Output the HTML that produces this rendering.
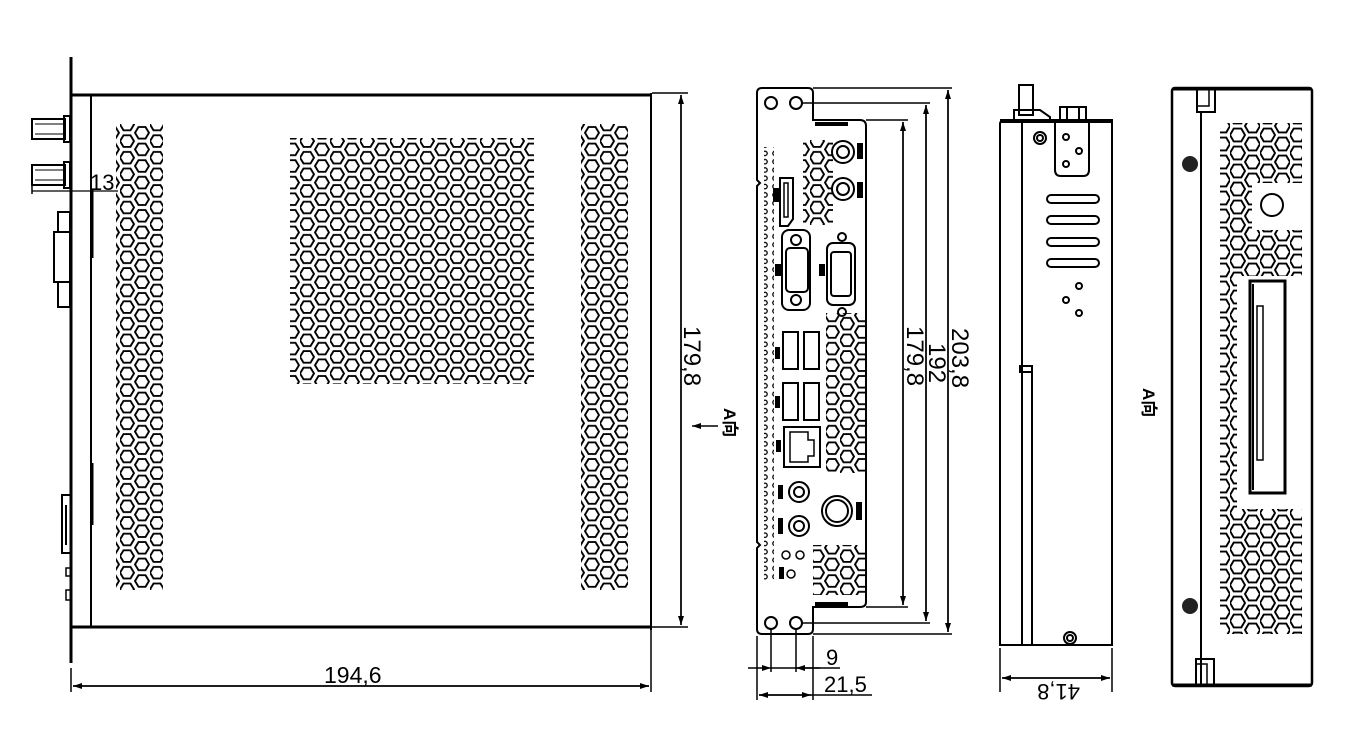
<!DOCTYPE html>
<html><head><meta charset="utf-8"><style>
html,body{margin:0;padding:0;background:#fff;}
svg{display:block;}
text{font-family:"Liberation Sans","Noto Sans CJK SC",sans-serif;fill:#000;}
</style></head><body>
<svg width="1361" height="756" viewBox="0 0 1361 756" xmlns="http://www.w3.org/2000/svg">
<defs>
<pattern id="hx" patternUnits="userSpaceOnUse" width="30" height="16.6">
<g fill="none" stroke="#000" stroke-width="1.9">
<polygon points="0,8.3 3.5,2.5 10.5,2.5 14,8.3 10.5,14.1 3.5,14.1"/>
<polygon points="15,0 18.5,-5.8 25.5,-5.8 29,0 25.5,5.8 18.5,5.8"/>
<polygon points="15,16.6 18.5,10.8 25.5,10.8 29,16.6 25.5,22.4 18.5,22.4"/>
</g></pattern>
<pattern id="hx2" patternUnits="userSpaceOnUse" width="30" height="18">
<g fill="none" stroke="#000" stroke-width="1.9">
<polygon points="0,9 3.7,2.6 11.3,2.6 15,9 11.3,15.4 3.7,15.4"/>
<polygon points="15,0 18.7,-6.4 26.3,-6.4 30,0 26.3,6.4 18.7,6.4"/>
<polygon points="15,18 18.7,11.6 26.3,11.6 30,18 26.3,24.4 18.7,24.4"/>
</g></pattern>
<pattern id="dots" patternUnits="userSpaceOnUse" width="10" height="8.3">
<circle cx="5" cy="4" r="2.2" fill="none" stroke="#000" stroke-width="1.3"/>
</pattern>
<marker id="ar" markerWidth="10" markerHeight="8" refX="9" refY="4" orient="auto" markerUnits="userSpaceOnUse">
<path d="M0,1 L9,4 L0,7 Z" fill="#000"/></marker>
</defs>

<g fill="none" stroke="#000">
<line x1="71" y1="57" x2="71" y2="663" stroke-width="3"/>
<line x1="71" y1="95" x2="652" y2="95" stroke-width="3"/>
<line x1="71" y1="627" x2="652" y2="627" stroke-width="3"/>
<line x1="91" y1="95" x2="91" y2="627" stroke-width="2"/>
<line x1="651" y1="93" x2="651" y2="630" stroke-width="2"/>
<line x1="92" y1="190" x2="92" y2="258" stroke-width="3"/>
<line x1="92" y1="463" x2="92" y2="525" stroke-width="3"/>
<rect x="32" y="119" width="33" height="20" stroke-width="2"/>
<line x1="35" y1="124" x2="63" y2="124" stroke-width="1"/><line x1="35" y1="134" x2="63" y2="134" stroke-width="1"/>
<rect x="64" y="116" width="6" height="26" stroke-width="2"/>
<rect x="32" y="165" width="33" height="20" stroke-width="2"/>
<line x1="35" y1="170" x2="63" y2="170" stroke-width="1"/><line x1="35" y1="180" x2="63" y2="180" stroke-width="1"/>
<rect x="64" y="162" width="6" height="26" stroke-width="2"/>
<line x1="32" y1="191" x2="118" y2="191" stroke-width="1.3"/>
<line x1="32" y1="186" x2="32" y2="194" stroke-width="1.5"/>
<rect x="58" y="212" width="12" height="20" stroke-width="2"/>
<rect x="54" y="232" width="16" height="50" stroke-width="2"/>
<rect x="58" y="282" width="12" height="25" stroke-width="2"/>
<rect x="62" y="495" width="9" height="58" stroke-width="2"/>
<line x1="66" y1="505" x2="66" y2="545" stroke-width="2"/>
<rect x="66" y="568" width="5" height="8" stroke-width="1.5"/>
<rect x="66" y="590" width="5" height="10" stroke-width="1.5"/>

<line x1="71" y1="668" x2="71" y2="692" stroke-width="1.5"/>
<line x1="651" y1="630" x2="651" y2="692" stroke-width="1.5"/>
<line x1="73" y1="686" x2="649" y2="686" stroke-width="1.5" marker-end="url(#ar)"/>
<line x1="649" y1="686" x2="73" y2="686" stroke-width="1.5" marker-end="url(#ar)"/>
<line x1="652" y1="93" x2="688" y2="93" stroke-width="1.5"/>
<line x1="652" y1="627" x2="688" y2="627" stroke-width="1.5"/>
<line x1="681" y1="95" x2="681" y2="625" stroke-width="1.5" marker-end="url(#ar)"/>
<line x1="681" y1="625" x2="681" y2="95" stroke-width="1.5" marker-end="url(#ar)"/>
<line x1="718" y1="426" x2="692" y2="426" stroke-width="1.5" marker-end="url(#ar)"/>
</g>
<rect x="116" y="124" width="47" height="466" fill="url(#hx)"/>
<rect x="290" y="138" width="244" height="246" fill="url(#hx)"/>
<rect x="581" y="124" width="47" height="466" fill="url(#hx)"/>
<text x="90" y="190" font-size="22">13</text>
<text x="324" y="683" font-size="23">194,6</text>
<text transform="translate(684,326) rotate(90)" font-size="24">179,8</text>
<text transform="translate(724,408) rotate(90)" font-size="17" font-weight="bold">A向</text>

<g fill="none" stroke="#000" stroke-width="2">
<path d="M762,88 L808,88 Q813,88 813,93 L813,120 L860,120 Q866,120 866,126 L866,602 Q866,607 860,607 L813,607 L813,629 Q813,634 808,634 L762,634 Q757,634 757,629 L757,548 L760,545 L757,542 L757,186 L760,183 L757,180 L757,93 Q757,88 762,88 Z"/>
<circle cx="771" cy="103" r="6"/><circle cx="796" cy="103" r="6"/>
<circle cx="771" cy="623" r="6"/><circle cx="796" cy="623" r="6"/>
<line x1="815" y1="124" x2="848" y2="124" stroke-width="4"/>
<line x1="815" y1="604" x2="848" y2="604" stroke-width="4"/>
<circle cx="843" cy="152" r="11"/><circle cx="843" cy="152" r="6"/>
<circle cx="843" cy="189" r="11"/><circle cx="843" cy="189" r="6"/>
<path d="M780,178 L793,178 L793,219 L788,226 L780,226 Z"/>
<rect x="784" y="183" width="4" height="34" stroke-width="1.5"/>
<rect x="782" y="230" width="28" height="80" rx="7"/>
<rect x="786" y="248" width="22" height="44" rx="4"/>
<circle cx="796" cy="240" r="5"/><circle cx="796" cy="300" r="5"/>
<rect x="827" y="243" width="28" height="62" rx="6"/>
<rect x="831" y="252" width="20" height="44" rx="3"/>
<circle cx="842" cy="237" r="4"/><circle cx="842" cy="312" r="4"/>
<rect x="783" y="332" width="15" height="37"/><rect x="804" y="332" width="15" height="37"/>
<rect x="783" y="383" width="15" height="37"/><rect x="804" y="383" width="15" height="37"/>
<rect x="784" y="427" width="36" height="40"/>
<path d="M790,432 L808,432 L808,440 L814,440 L814,456 L808,456 L808,462 L790,462 Z" stroke-width="1.5"/>
<circle cx="799" cy="492" r="10"/><circle cx="799" cy="492" r="5"/>
<circle cx="799" cy="526" r="10"/><circle cx="799" cy="526" r="5"/>
<circle cx="837" cy="511" r="15"/><circle cx="837" cy="511" r="11"/>
<circle cx="786" cy="555" r="4" stroke-width="1.5"/><circle cx="800" cy="555" r="4" stroke-width="1.5"/>
<circle cx="791" cy="574" r="4" stroke-width="1.5"/>
</g>
<g fill="#000">
<rect x="857" y="143" width="6" height="16"/><rect x="857" y="182" width="6" height="16"/>
<rect x="773" y="188" width="6" height="14"/><rect x="775" y="264" width="6" height="12"/>
<rect x="819" y="264" width="6" height="12"/><rect x="775" y="347" width="5" height="12"/>
<rect x="775" y="396" width="5" height="12"/><rect x="776" y="440" width="5" height="12"/>
<rect x="778" y="485" width="5" height="14"/><rect x="778" y="518" width="5" height="16"/>
<rect x="856" y="502" width="6" height="18"/><rect x="779" y="567" width="5" height="12"/>
</g>
<rect x="764" y="147" width="10" height="433" fill="url(#dots)"/>
<rect x="803" y="140" width="30" height="85" fill="url(#hx)"/>
<rect x="826" y="313" width="40" height="160" fill="url(#hx)"/>
<rect x="813" y="545" width="52" height="50" fill="url(#hx)"/>

<g fill="none" stroke="#000" stroke-width="1.5">
<line x1="813" y1="88" x2="952" y2="88"/><line x1="813" y1="634" x2="952" y2="634"/>
<line x1="802" y1="103" x2="930" y2="103"/><line x1="802" y1="623" x2="930" y2="623"/>
<line x1="866" y1="120" x2="908" y2="120"/><line x1="866" y1="607" x2="908" y2="607"/>
<line x1="948" y1="90" x2="948" y2="632" marker-end="url(#ar)"/><line x1="948" y1="632" x2="948" y2="90" marker-end="url(#ar)"/>
<line x1="926" y1="105" x2="926" y2="621" marker-end="url(#ar)"/><line x1="926" y1="621" x2="926" y2="105" marker-end="url(#ar)"/>
<line x1="903" y1="122" x2="903" y2="605" marker-end="url(#ar)"/><line x1="903" y1="605" x2="903" y2="122" marker-end="url(#ar)"/>
<line x1="757" y1="636" x2="757" y2="700"/><line x1="771" y1="629" x2="771" y2="672"/>
<line x1="796" y1="629" x2="796" y2="672"/><line x1="813" y1="636" x2="813" y2="700"/>
<line x1="748" y1="668" x2="771" y2="668" marker-end="url(#ar)"/><line x1="820" y1="668" x2="796" y2="668" marker-end="url(#ar)"/>
<line x1="771" y1="668" x2="796" y2="668"/><line x1="796" y1="668" x2="840" y2="668"/>
<line x1="759" y1="695" x2="811" y2="695" marker-end="url(#ar)"/><line x1="811" y1="695" x2="759" y2="695" marker-end="url(#ar)"/>
<line x1="811" y1="695" x2="872" y2="695"/>
</g>
<text x="826" y="665" font-size="22">9</text>
<text x="824" y="692" font-size="22">21,5</text>
<text transform="translate(907,326) rotate(90)" font-size="24">179,8</text>
<text transform="translate(929,343) rotate(90)" font-size="24">192</text>
<text transform="translate(952,328) rotate(90)" font-size="24">203,8</text>

<g fill="none" stroke="#000" stroke-width="2">
<path d="M1003,121 L1112,121 L1112,645 L1000,645 L1000,124 Q1000,121 1003,121 Z"/>
<line x1="1000" y1="121" x2="1113" y2="121" stroke-width="4"/>
<line x1="1022" y1="121" x2="1022" y2="645"/>
<line x1="1032" y1="366" x2="1032" y2="645"/>
<rect x="1019" y="85" width="14" height="30"/>
<path d="M1014,121 L1014,110 L1040,110 L1050,117 L1050,121"/>
<rect x="1060" y="107" width="26" height="14"/>
<line x1="1067" y1="107" x2="1067" y2="121"/><line x1="1079" y1="107" x2="1079" y2="121"/>
<path d="M1055,121 L1055,170 Q1055,176 1061,176 L1083,176 Q1089,176 1089,170 L1089,121"/>
<circle cx="1066" cy="137" r="3"/><circle cx="1079" cy="151" r="3"/><circle cx="1066" cy="164" r="3"/>
<circle cx="1040" cy="138" r="6"/><circle cx="1040" cy="138" r="3"/>
<rect x="1047" y="195" width="52" height="8" rx="4"/><rect x="1047" y="216" width="52" height="8" rx="4"/>
<rect x="1047" y="238" width="52" height="8" rx="4"/><rect x="1047" y="259" width="52" height="8" rx="4"/>
<circle cx="1079" cy="286" r="3"/><circle cx="1066" cy="300" r="3"/><circle cx="1079" cy="313" r="3"/>
<circle cx="1070" cy="638" r="6"/><circle cx="1070" cy="638" r="3"/>
<rect x="1020" y="366" width="12" height="6"/>
</g>
<g fill="none" stroke="#000" stroke-width="1.5">
<line x1="1000" y1="648" x2="1000" y2="692"/><line x1="1112" y1="648" x2="1112" y2="692"/>
<line x1="1002" y1="678" x2="1110" y2="678" marker-end="url(#ar)"/><line x1="1110" y1="678" x2="1002" y2="678" marker-end="url(#ar)"/>
</g>
<text transform="translate(1080,684) rotate(180)" font-size="22">41,8</text>
<text transform="translate(1143,388) rotate(90)" font-size="17" font-weight="bold">A向</text>

<g fill="none" stroke="#000" stroke-width="2">
<rect x="1172" y="88" width="140" height="598" rx="3" stroke-width="2.5"/>
<line x1="1172" y1="89" x2="1312" y2="89" stroke-width="3"/>
<line x1="1172" y1="685" x2="1312" y2="685" stroke-width="3"/>
<line x1="1201" y1="112" x2="1201" y2="686"/>
<rect x="1197" y="88" width="18" height="24"/><rect x="1197" y="88" width="12" height="18" stroke-width="1.5"/>
<rect x="1196" y="659" width="18" height="27"/><rect x="1196" y="664" width="11" height="22" stroke-width="1.5"/>
<circle cx="1272" cy="205" r="11"/>
<rect x="1250" y="281" width="35" height="212" stroke-width="3"/>
<rect x="1257" y="306" width="6" height="154" stroke-width="1.5"/>
<line x1="1253" y1="284" x2="1253" y2="490" stroke-width="2"/>
</g>
<circle cx="1190" cy="164" r="8" fill="#222"/>
<circle cx="1190" cy="606" r="8" fill="#222"/>
<rect x="1220" y="123" width="82" height="60" fill="url(#hx2)"/>
<rect x="1220" y="183" width="32" height="50" fill="url(#hx2)"/>
<rect x="1220" y="230" width="82" height="46" fill="url(#hx2)"/>
<rect x="1220" y="276" width="17" height="233" fill="url(#hx2)"/>
<rect x="1220" y="509" width="82" height="125" fill="url(#hx2)"/>
</svg>
</body></html>
